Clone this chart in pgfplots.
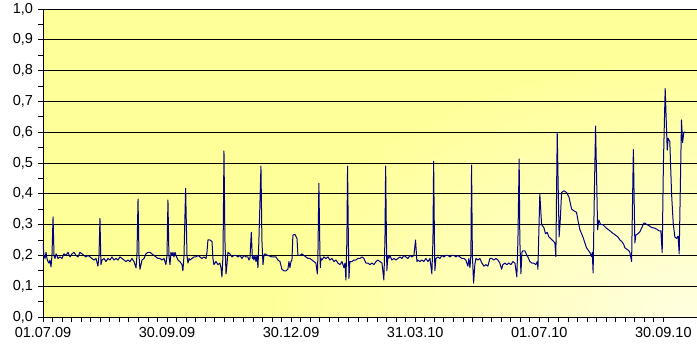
\documentclass[border=0pt]{standalone}
\usepackage{fontspec}
\setmainfont{Liberation Sans}
\usepackage{pgfplots}
\pgfplotsset{compat=1.18}
\usepackage{pgfplotstable}
\definecolor{bgyellow}{RGB}{255,255,153}
\definecolor{bglight}{RGB}{255,255,225}
\definecolor{navyline}{RGB}{0,0,128}

\pgfplotstableread{
day value
0 0.24
0.7 0.20
1.5 0.19
2.2 0.21
2.9 0.19
3.7 0.18
4.4 0.175
5.1 0.185
5.9 0.163
6.6 0.20
7.4 0.325
8.1 0.20
8.8 0.19
9.6 0.205
10.3 0.20
11.0 0.19
12.5 0.195
14.0 0.19
15.4 0.205
16.9 0.20
18.4 0.21
19.9 0.195
21.3 0.205
22.8 0.21
24.3 0.20
25.7 0.195
27.2 0.21
28.7 0.205
30.1 0.20
31.6 0.195
33.1 0.20
34.6 0.195
36.0 0.19
37.5 0.185
39.0 0.19
40.4 0.165
41.2 0.20
41.9 0.32
42.6 0.17
43.4 0.185
44.9 0.19
46.3 0.18
47.8 0.19
49.3 0.185
50.7 0.195
52.2 0.185
53.7 0.19
55.1 0.185
56.6 0.195
58.1 0.19
59.6 0.185
61.0 0.18
62.5 0.185
64.0 0.18
65.4 0.19
66.9 0.18
68.4 0.16
69.1 0.20
69.9 0.383
70.6 0.20
71.3 0.155
72.1 0.17
72.8 0.185
74.3 0.19
75.7 0.205
77.2 0.21
78.7 0.21
80.1 0.205
81.6 0.20
83.1 0.195
84.6 0.19
86.0 0.19
87.5 0.185
89.0 0.19
90.4 0.17
91.2 0.20
91.9 0.38
92.6 0.20
93.4 0.17
94.1 0.21
94.9 0.20
95.6 0.21
96.3 0.195
97.1 0.21
97.8 0.20
99.3 0.185
100.7 0.18
102.2 0.17
102.9 0.15
103.7 0.20
104.9 0.418
105.9 0.20
106.6 0.175
107.4 0.19
108.1 0.185
109.6 0.19
111.0 0.195
112.5 0.195
114.0 0.20
115.4 0.195
116.9 0.19
118.4 0.195
119.9 0.19
120.6 0.21
121.3 0.25
122.8 0.25
124.3 0.245
125.0 0.19
125.7 0.17
127.2 0.18
128.7 0.17
130.1 0.175
130.9 0.16
131.6 0.13
132.4 0.20
133.1 0.539
133.8 0.25
134.6 0.14
135.3 0.17
136.0 0.21
137.5 0.205
139.0 0.195
140.4 0.20
141.9 0.20
143.4 0.195
144.9 0.20
146.3 0.19
147.8 0.20
149.3 0.195
150.7 0.195
151.5 0.185
152.2 0.19
153.2 0.275
154.0 0.19
154.4 0.20
155.1 0.185
155.9 0.20
156.6 0.18
157.4 0.20
158.1 0.16
158.8 0.25
160.3 0.49
161.0 0.25
161.8 0.17
162.5 0.20
163.2 0.205
165.4 0.20
168.4 0.195
171.3 0.195
172.8 0.185
174.3 0.18
175.7 0.155
177.2 0.15
178.7 0.15
180.1 0.155
180.9 0.18
181.6 0.16
182.4 0.18
183.1 0.185
183.8 0.266
185.3 0.268
186.8 0.255
187.5 0.20
189.0 0.20
190.4 0.205
191.9 0.20
193.4 0.195
194.9 0.19
196.3 0.19
197.8 0.185
199.3 0.18
200.7 0.175
201.8 0.14
202.2 0.20
202.9 0.434
203.7 0.20
204.0 0.16
204.4 0.19
205.1 0.185
206.6 0.195
208.1 0.19
209.6 0.195
211.0 0.185
212.5 0.19
214.0 0.18
215.4 0.185
216.9 0.175
218.4 0.17
219.9 0.18
221.3 0.16
222.1 0.175
222.8 0.12
223.5 0.25
224.0 0.49
224.6 0.25
225.0 0.125
225.7 0.18
227.2 0.18
228.7 0.185
230.1 0.185
231.6 0.19
233.1 0.19
234.6 0.195
236.0 0.19
237.5 0.175
239.0 0.175
240.4 0.17
241.9 0.175
243.4 0.17
244.9 0.18
246.3 0.185
247.8 0.18
249.3 0.175
250.7 0.12
251.5 0.25
252.0 0.49
252.6 0.25
252.9 0.15
253.7 0.20
254.4 0.19
255.1 0.20
256.6 0.185
258.1 0.19
259.6 0.185
261.0 0.19
262.5 0.195
264.0 0.19
265.4 0.20
266.9 0.195
268.4 0.19
269.9 0.20
271.3 0.195
272.8 0.20
274.0 0.25
275.0 0.18
275.7 0.185
277.2 0.18
278.7 0.185
280.1 0.18
281.6 0.19
283.1 0.18
284.6 0.19
286.0 0.14
286.8 0.25
287.3 0.506
287.9 0.25
288.2 0.15
289.0 0.19
290.4 0.195
291.9 0.19
293.4 0.20
294.9 0.195
296.3 0.20
297.8 0.20
299.3 0.195
300.7 0.20
302.2 0.20
303.7 0.195
305.1 0.20
306.6 0.195
308.1 0.19
309.6 0.19
311.0 0.185
312.5 0.165
313.2 0.19
314.0 0.16
314.7 0.20
315.2 0.493
315.8 0.20
316.7 0.11
317.6 0.17
318.4 0.19
319.9 0.185
321.3 0.19
322.8 0.175
324.3 0.165
325.7 0.17
327.2 0.165
328.7 0.19
330.1 0.19
331.6 0.185
333.1 0.19
334.6 0.185
336.0 0.175
337.3 0.155
338.2 0.17
339.7 0.175
341.2 0.17
342.6 0.175
344.1 0.17
345.6 0.18
347.1 0.175
348.5 0.13
349.3 0.25
350.2 0.513
350.7 0.25
351.5 0.14
352.2 0.21
352.9 0.215
354.4 0.215
355.9 0.20
356.6 0.195
358.1 0.18
359.6 0.175
361.0 0.175
362.5 0.17
363.6 0.18
364.0 0.155
365.4 0.40
366.7 0.30
368.4 0.29
369.6 0.27
370.8 0.275
372.1 0.26
373.3 0.255
375.2 0.247
376.5 0.24
377.2 0.196
378.2 0.598
379.0 0.40
379.6 0.26
380.5 0.32
381.4 0.404
383.1 0.41
385.1 0.404
386.8 0.39
388.8 0.35
390.4 0.345
392.4 0.34
393.6 0.31
394.9 0.283
397.1 0.26
399.8 0.224
402.2 0.21
403.5 0.196
404.0 0.21
404.6 0.143
405.5 0.40
406.4 0.62
407.4 0.40
407.9 0.283
408.8 0.315
410.1 0.30
411.8 0.30
414.0 0.29
416.9 0.28
419.1 0.272
421.3 0.265
422.8 0.26
424.3 0.25
425.7 0.245
427.2 0.235
427.9 0.225
429.4 0.22
430.9 0.215
431.6 0.21
432.9 0.18
433.5 0.35
434.2 0.544
435.3 0.24
436.0 0.266
437.5 0.27
439.0 0.277
440.4 0.29
441.9 0.305
442.6 0.305
444.1 0.30
445.6 0.297
447.1 0.292
448.5 0.29
450.0 0.288
451.5 0.285
452.9 0.28
454.4 0.28
455.4 0.209
456.3 0.50
457.6 0.742
459.1 0.542
459.8 0.58
461.0 0.57
462.3 0.40
463.5 0.305
464.7 0.26
466.0 0.255
467.1 0.263
467.9 0.205
469.6 0.64
470.4 0.566
471.3 0.60
472.5 0.60
}\datatable

\begin{document}
\fontsize{14.5}{17}\selectfont
\begin{tikzpicture}
\path[use as bounding box] (-43pt,-34pt) rectangle (654pt,317pt);
\fill[bgyellow] (0,0) rectangle (654pt,308pt);
\begin{scope}
\clip (0,0) rectangle (654pt,308pt);
\shade[inner color=bglight, outer color=bgyellow] (654pt,0) ellipse (430pt and 260pt);
\end{scope}
\begin{axis}[
  at={(0,0)}, anchor=south west,
  scale only axis, width=654pt, height=308pt,
  xmin=0, xmax=481, ymin=0, ymax=1,
  axis x line*=bottom, axis y line*=left,
  axis line style={black, line width=0.8pt},
  xtick={0,91.25,182.5,273.75,365,456.25},
  xticklabels={01.07.09,30.09.09,30.12.09,31.03.10,01.07.10,30.09.10},
  minor x tick num=12,
  ytick={0,0.1,0.2,0.3,0.4,0.5,0.6,0.7,0.8,0.9,1.0},
  minor y tick num=1,
  ymajorgrids,
  major grid style={black, line width=0.8pt},
  tick align=outside,
  major tick length=5pt, minor tick length=5pt,
  tick style={black, line width=0.8pt},
  yticklabel style={/pgf/number format/.cd, fixed, fixed zerofill, precision=1, use comma, assume math mode=true},
]
\addplot[navyline, line width=1pt, line join=round, mark=none] table[x=day,y=value]{\datatable};
\end{axis}
\end{tikzpicture}
\end{document}
